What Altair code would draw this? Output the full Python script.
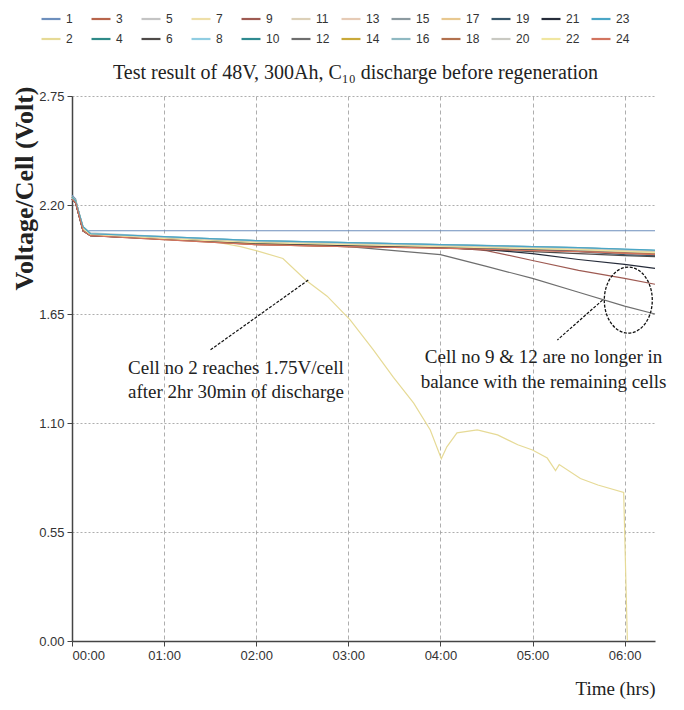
import altair as alt
import pandas as pd

# ---------------- data ----------------
CELLS = [str(i) for i in range(1, 25)]
LEGEND_ORDER = [str(i) for i in range(1, 25, 2)] + [str(i) for i in range(2, 25, 2)]

COLORS = {
    "1": "#6d8fbd", "2": "#e6da96", "3": "#b8654c", "4": "#2f8a88",
    "5": "#c4c4c4", "6": "#4e4a48", "7": "#eedfa8", "8": "#90cde2",
    "9": "#9e5a52", "10": "#2f8a90", "11": "#dcd0b8", "12": "#6e6e6e",
    "13": "#e6cbb6", "14": "#c9a93a", "15": "#8c9aa0", "16": "#8fb9c2",
    "17": "#e8c890", "18": "#b2714e", "19": "#37566a", "20": "#c9c9c2",
    "21": "#262c3a", "22": "#f0e6a0", "23": "#4aa6c6", "24": "#d2745f",
}

# common time grid (hours) for the balanced cells
TIMES = [0, 0.04, 0.12, 0.2, 1.0, 2.0, 3.0, 4.0, 4.5, 5.0, 5.5, 6.0, 6.33]

VOLTS = {
    "1":  [2.25, 2.23, 2.07, 2.07, 2.07, 2.07, 2.07, 2.07, 2.07, 2.07, 2.07, 2.07, 2.07],
    "3":  [2.24, 2.22, 2.08, 2.05, 2.03, 2.00, 1.99, 1.985, 1.98, 1.975, 1.97, 1.96, 1.955],
    "4":  [2.23, 2.21, 2.07, 2.05, 2.035, 2.015, 2.005, 1.995, 1.99, 1.985, 1.98, 1.97, 1.965],
    "5":  [2.24, 2.22, 2.09, 2.06, 2.04, 2.02, 2.01, 2.0, 1.995, 1.99, 1.985, 1.975, 1.97],
    "6":  [2.23, 2.21, 2.08, 2.05, 2.03, 2.01, 1.995, 1.985, 1.975, 1.965, 1.955, 1.945, 1.94],
    "7":  [2.24, 2.22, 2.08, 2.05, 2.035, 2.015, 2.005, 1.995, 1.99, 1.985, 1.98, 1.97, 1.965],
    "8":  [2.24, 2.22, 2.09, 2.055, 2.04, 2.02, 2.01, 2.0, 1.995, 1.99, 1.985, 1.975, 1.97],
    "9":  [2.23, 2.21, 2.07, 2.045, 2.03, 2.01, 2.0, 1.99, 1.97, 1.92, 1.87, 1.83, 1.80],
    "10": [2.24, 2.22, 2.08, 2.05, 2.03, 2.012, 2.002, 1.992, 1.988, 1.982, 1.976, 1.968, 1.962],
    "11": [2.24, 2.22, 2.09, 2.055, 2.035, 2.018, 2.008, 1.998, 1.993, 1.988, 1.982, 1.974, 1.968],
    "12": [2.23, 2.21, 2.07, 2.045, 2.03, 2.005, 1.99, 1.95, 1.89, 1.83, 1.76, 1.69, 1.65],
    "13": [2.24, 2.22, 2.085, 2.05, 2.033, 2.013, 2.003, 1.993, 1.988, 1.983, 1.978, 1.97, 1.965],
    "14": [2.24, 2.22, 2.08, 2.05, 2.028, 2.006, 1.996, 1.986, 1.98, 1.975, 1.968, 1.958, 1.952],
    "15": [2.23, 2.21, 2.08, 2.05, 2.03, 2.01, 2.0, 1.99, 1.985, 1.978, 1.97, 1.96, 1.955],
    "16": [2.24, 2.22, 2.09, 2.055, 2.038, 2.02, 2.01, 2.0, 1.996, 1.99, 1.984, 1.976, 1.97],
    "17": [2.24, 2.22, 2.08, 2.05, 2.032, 2.012, 2.002, 1.992, 1.987, 1.982, 1.977, 1.968, 1.963],
    "18": [2.23, 2.21, 2.07, 2.045, 2.025, 2.0, 1.99, 1.982, 1.977, 1.972, 1.966, 1.958, 1.953],
    "19": [2.24, 2.22, 2.08, 2.05, 2.03, 2.01, 1.998, 1.988, 1.982, 1.975, 1.965, 1.95, 1.945],
    "20": [2.24, 2.22, 2.085, 2.05, 2.035, 2.015, 2.005, 1.995, 1.99, 1.985, 1.98, 1.972, 1.967],
    "21": [2.23, 2.21, 2.07, 2.045, 2.028, 2.008, 1.995, 1.985, 1.975, 1.955, 1.925, 1.90, 1.88],
    "22": [2.24, 2.22, 2.08, 2.05, 2.03, 2.01, 2.0, 1.99, 1.985, 1.98, 1.975, 1.966, 1.96],
    "23": [2.24, 2.22, 2.09, 2.055, 2.04, 2.02, 2.01, 2.0, 1.995, 1.99, 1.985, 1.977, 1.972],
    "24": [2.23, 2.21, 2.07, 2.045, 2.025, 2.0, 1.99, 1.982, 1.976, 1.97, 1.965, 1.956, 1.95],
}

# cell 2 (the weak cell) has its own sampled trace
CELL2_TIMES = [0, 0.04, 0.12, 0.2, 1.0, 1.6, 1.83, 2.0, 2.29, 2.54, 2.77, 3.02, 3.27,
               3.49, 3.71, 3.89, 4.01, 4.07, 4.18, 4.40, 4.62, 4.84, 5.0, 5.16, 5.25,
               5.29, 5.52, 5.71, 5.99, 6.03]
CELL2_VOLTS = [2.24, 2.22, 2.08, 2.05, 2.03, 2.01, 1.99, 1.97, 1.93, 1.82, 1.74, 1.62, 1.47,
               1.33, 1.20, 1.065, 0.92, 0.98, 1.05, 1.065, 1.04, 0.99, 0.964, 0.923, 0.86,
               0.89, 0.82, 0.787, 0.75, 0.0]

X_TICKS = [0, 1, 2, 3, 4, 5, 6]
Y_TICKS = [0.0, 0.55, 1.10, 1.65, 2.20, 2.75]

TITLE = "Test result of 48V, 300Ah, C\u2081\u2080 discharge before regeneration"

# annotations (data coordinates)
NOTE1_LINES = ["Cell no 2 reaches 1.75V/cell", "after 2hr 30min of discharge"]
NOTE1_X, NOTE1_Y = [1.78, 1.78], [1.377, 1.256]
NOTE2_LINES = ["Cell no 9 & 12 are no longer in", "balance with the remaining cells"]
NOTE2_X, NOTE2_Y = [5.12, 5.12], [1.433, 1.307]
ARROWS = {"x": [2.565, 5.76], "y": [1.821, 1.72], "x2": [1.50, 5.27], "y2": [1.468, 1.519]}
ELLIPSE = {"x": [6.04], "y": [1.72]}

# ---------------- build ----------------
rows = []
for c in CELLS:
    if c == "2":
        for t, v in zip(CELL2_TIMES, CELL2_VOLTS):
            rows.append({"cell": c, "t": t, "v": v})
    else:
        for t, v in zip(TIMES, VOLTS[c]):
            rows.append({"cell": c, "t": t, "v": v})
df = pd.DataFrame(rows)

SERIF = "Liberation Serif"
NARROW = "Liberation Sans Narrow, Arial Narrow, Liberation Sans"

W, H = 583, 545
xscale = alt.Scale(domain=[0, 6.33], nice=False, zero=False)
yscale = alt.Scale(domain=[0, 2.75], nice=False)

lines = alt.Chart(df).mark_line(strokeWidth=1.2).encode(
    x=alt.X("t:Q", scale=xscale,
            axis=alt.Axis(values=X_TICKS, title="Time (hrs)",
                          labelExpr="'0' + datum.value + ':00'",
                          gridDash=[4, 3], titleAnchor="end", titleAlign="right",
                          titleFont=SERIF, titleFontSize=19, titleFontWeight="normal",
                          titlePadding=17)),
    y=alt.Y("v:Q", scale=yscale,
            axis=alt.Axis(values=Y_TICKS, format=".2f", title="Voltage/Cell (Volt)",
                          gridDash=[2, 2], titleAnchor="end", titleAlign="right",
                          titleFont=SERIF, titleFontSize=26, titleFontWeight="bold",
                          titleY=-10, titlePadding=1)),
    color=alt.Color("cell:N",
                    scale=alt.Scale(domain=LEGEND_ORDER, range=[COLORS[c] for c in LEGEND_ORDER]),
                    legend=alt.Legend(title=None, orient="none", legendX=-32, legendY=-88,
                                      direction="horizontal", columns=12, symbolType="stroke",
                                      symbolSize=360, symbolStrokeWidth=2.2,
                                      labelFont=NARROW, labelFontSize=12, labelColor="#333",
                                      columnPadding=7, rowPadding=3, gridAlign="all",
                                      labelOffset=4)),
)

title = alt.Chart(pd.DataFrame({"txt": [TITLE]})).mark_text(
    font=SERIF, fontSize=20, color="#222", align="center", baseline="middle"
).encode(x=alt.value(W / 2 - 8), y=alt.value(-23), text="txt:N")

note_df1 = pd.DataFrame({"x": NOTE1_X, "y": NOTE1_Y, "txt": NOTE1_LINES})
note_df2 = pd.DataFrame({"x": NOTE2_X, "y": NOTE2_Y, "txt": NOTE2_LINES})
notes = alt.Chart(pd.concat([note_df1, note_df2])).mark_text(
    font=SERIF, fontSize=19, color="#222", align="center", baseline="middle"
).encode(x=alt.X("x:Q", scale=xscale), y=alt.Y("y:Q", scale=yscale), text="txt:N")

arrows = alt.Chart(pd.DataFrame(ARROWS)).mark_rule(
    color="#111", strokeWidth=1.2, strokeDash=[3, 1.5]
).encode(x=alt.X("x:Q", scale=xscale), y=alt.Y("y:Q", scale=yscale), x2="x2:Q", y2="y2:Q")

ellipse = alt.Chart(pd.DataFrame(ELLIPSE)).mark_point(
    shape="M -0.727 0 A 0.727 1 0 1 0 0.727 0 A 0.727 1 0 1 0 -0.727 0 Z",
    size=4356, filled=False, color="#111", strokeWidth=1.3, strokeDash=[3, 1.5], opacity=1
).encode(x=alt.X("x:Q", scale=xscale), y=alt.Y("y:Q", scale=yscale))

chart = alt.layer(lines, arrows, ellipse, notes, title).properties(
    width=W, height=H,
    autosize=alt.AutoSizeParams(type="none"),
    padding={"left": 64, "top": 88, "right": 21, "bottom": 61},
).configure_view(stroke=None).configure_axis(
    domainColor="#444", domainWidth=1.5, tickColor="#444", tickSize=5,
    gridColor="#999", gridWidth=0.8, labelFont=NARROW, labelFontSize=13,
    labelColor="#333", titleColor="#222", labelPadding=3,
)

chart.save("out.html", embed_options={"renderer": "svg", "actions": False})
